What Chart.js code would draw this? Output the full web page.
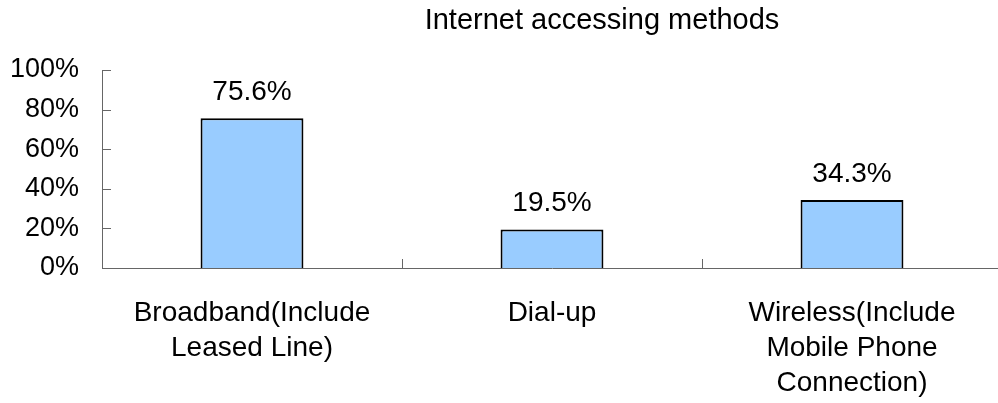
<!DOCTYPE html>
<html>
<head>
<meta charset="utf-8">
<script src="https://cdn.jsdelivr.net/npm/chart.js@4"></script>
<style>
  html, body { margin: 0; padding: 0; background: #fff; overflow: hidden; }
  #wrap { width: 1010px; height: 403px; }
</style>
</head>
<body>
<div id="wrap"><canvas id="barChart"></canvas></div>
<script>
const chartTitle = 'Internet accessing methods';
const methods = [
  ['Broadband(Include', 'Leased Line)'],
  ['Dial-up'],
  ['Wireless(Include', 'Mobile Phone', 'Connection)']
];
const shares = [75.6, 19.5, 34.3];
const yTicks = [0, 20, 40, 60, 80, 100];

const FONT = 'Liberation Sans, Arial, sans-serif';
const AXIS = '#666';

// short tick marks pointing into the plot, plus the title and value labels
const decorations = {
  id: 'decorations',
  afterDraw(chart) {
    const ctx = chart.ctx;
    const x = chart.scales.x, y = chart.scales.y;
    ctx.save();
    ctx.strokeStyle = AXIS;
    ctx.lineWidth = 1;
    ctx.beginPath();
    yTicks.forEach(v => {
      const py = Math.round(y.getPixelForValue(v)) + 0.5;
      ctx.moveTo(x.left, py);
      ctx.lineTo(x.left + 9, py);
    });
    for (let i = 0; i <= methods.length; i++) {
      const px = Math.round(x.getPixelForValue(i - 0.5)) + 0.5;
      ctx.moveTo(px, y.bottom);
      ctx.lineTo(px, y.bottom - 9);
    }
    ctx.stroke();

    ctx.fillStyle = '#000';
    ctx.textAlign = 'center';
    ctx.textBaseline = 'alphabetic';
    ctx.font = '29px ' + FONT;
    ctx.fillText(chartTitle, 602, 29);

    ctx.font = '28px ' + FONT;
    chart.getDatasetMeta(0).data.forEach((bar, i) => {
      ctx.fillText(shares[i].toFixed(1) + '%', bar.x, bar.y - 18);
    });
    ctx.restore();
  }
};

new Chart(document.getElementById('barChart').getContext('2d'), {
  type: 'bar',
  data: {
    labels: methods,
    datasets: [{
      data: shares,
      backgroundColor: '#99CCFF',
      borderColor: '#000',
      borderWidth: 2,
      barPercentage: 0.343,
      categoryPercentage: 1
    }]
  },
  options: {
    responsive: true,
    maintainAspectRatio: false,
    animation: false,
    layout: { padding: { top: 70, right: 8, left: 0, bottom: 0 } },
    plugins: {
      legend: { display: false },
      title: { display: false },
      tooltip: { enabled: false }
    },
    scales: {
      x: {
        offset: true,
        grid: { display: false, drawTicks: false },
        border: { display: true, color: AXIS, width: 1 },
        ticks: {
          color: '#000',
          font: { family: FONT, size: 28, lineHeight: 1.25 },
          padding: 28,
          maxRotation: 0,
          autoSkip: false
        },
        afterFit(scale) { scale.height = 135; }
      },
      y: {
        min: 0,
        max: 100,
        grid: { display: false, drawTicks: false },
        border: { display: true, color: AXIS, width: 1 },
        afterBuildTicks(scale) { scale.ticks = yTicks.map(v => ({ value: v })); },
        ticks: {
          color: '#000',
          font: { family: FONT, size: 27 },
          padding: 23,
          callback: v => v + '%'
        },
        afterFit(scale) { scale.width = 102; }
      }
    }
  },
  plugins: [decorations]
});
</script>
</body>
</html>
